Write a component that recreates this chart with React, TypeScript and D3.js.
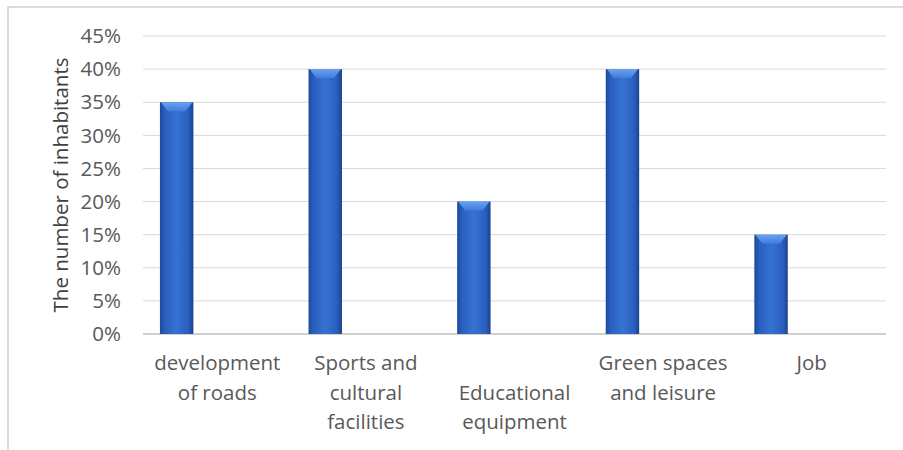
import React from "react";
import * as d3 from "d3";

const categories: string[][] = [
  ["development", "of roads"],
  ["Sports and", "cultural", "facilities"],
  ["Educational", "equipment"],
  ["Green spaces", "and leisure"],
  ["Job"],
];
const labelStartLine: number[] = [0, 0, 1, 0, 0];
const values: number[] = [0.35, 0.4, 0.2, 0.4, 0.15];
const yTicks: number[] = [0, 0.05, 0.1, 0.15, 0.2, 0.25, 0.3, 0.35, 0.4, 0.45];
const yTitle = "The number of inhabitants";

const W = 903;
const H = 450;
const left = 143;
const right = 886;
const top = 36;
const bottom = 334;
const font = "'Open Sans', sans-serif";

export default function App() {
  const x = d3
    .scaleBand<number>()
    .domain(values.map((_, i) => i))
    .range([left, right])
    .padding(0);
  const y = d3.scaleLinear().domain([0, 0.45]).range([bottom, top]);
  const bw = x.bandwidth();
  const barW = bw * 0.225;
  const barOff = bw * 0.114;
  const fmt = d3.format(".0%");

  return (
    <svg
      width={W}
      height={H}
      style={{ position: "absolute", left: 0, top: 0, background: "#fff" }}
    >
      <defs>
        <linearGradient id="barGrad" x1="0" x2="1" y1="0" y2="0">
          <stop offset="0" stopColor="#1d4a9a" />
          <stop offset="0.15" stopColor="#2a5fbf" />
          <stop offset="0.5" stopColor="#3672d2" />
          <stop offset="0.85" stopColor="#2a5fbf" />
          <stop offset="1" stopColor="#1a438c" />
        </linearGradient>
        <linearGradient id="capGrad" x1="0" x2="0" y1="0" y2="1">
          <stop offset="0" stopColor="#6aa2f0" />
          <stop offset="1" stopColor="#3f7ddc" />
        </linearGradient>
      </defs>
      <rect x={8} y={7} width={W} height={H} fill="#fff" stroke="#d0d0d0" strokeWidth={1.5} />
      {yTicks.map((t) =>
        t === 0 ? null : (
          <line key={t} x1={left} x2={right} y1={y(t)} y2={y(t)} stroke="#d9d9d9" strokeWidth={1} />
        )
      )}
      <line x1={left} x2={right} y1={y(0)} y2={y(0)} stroke="#d0d0d0" strokeWidth={2} />
      {yTicks.map((t) => (
        <text
          key={"l" + t}
          x={121}
          y={y(t)}
          dy="0.35em"
          textAnchor="end"
          fontFamily={font}
          fontSize={20.5}
          fill="#595959"
        >
          {fmt(t)}
        </text>
      ))}
      <text
        transform={`translate(61,${(top + bottom) / 2}) rotate(-90)`}
        textAnchor="middle"
        dy="0.35em"
        fontFamily={font}
        fontSize={20.5}
        fill="#404040"
      >
        {yTitle}
      </text>
      {values.map((v, i) => {
        const x0 = (x(i) as number) + barOff;
        const yt = y(v);
        const cap = 9;
        return (
          <g key={"b" + i}>
            <rect x={x0} y={yt} width={barW} height={bottom - yt} fill="url(#barGrad)" />
            <path
              d={`M${x0 + 1},${yt} L${x0 + barW - 1},${yt} L${x0 + barW - 8},${yt + cap} L${x0 + 8},${yt + cap} Z`}
              fill="url(#capGrad)"
            />
          </g>
        );
      })}
      {categories.map((lines, i) => {
        const cx = (x(i) as number) + bw / 2;
        return (
          <text
            key={"c" + i}
            textAnchor="middle"
            fontFamily={font}
            fontSize={20.5}
            fill="#595959"
          >
            {lines.map((ln, j) => (
              <tspan key={j} x={cx} y={363 + (j + labelStartLine[i]) * 29.5} dy="0.35em">
                {ln}
              </tspan>
            ))}
          </text>
        );
      })}
    </svg>
  );
}
